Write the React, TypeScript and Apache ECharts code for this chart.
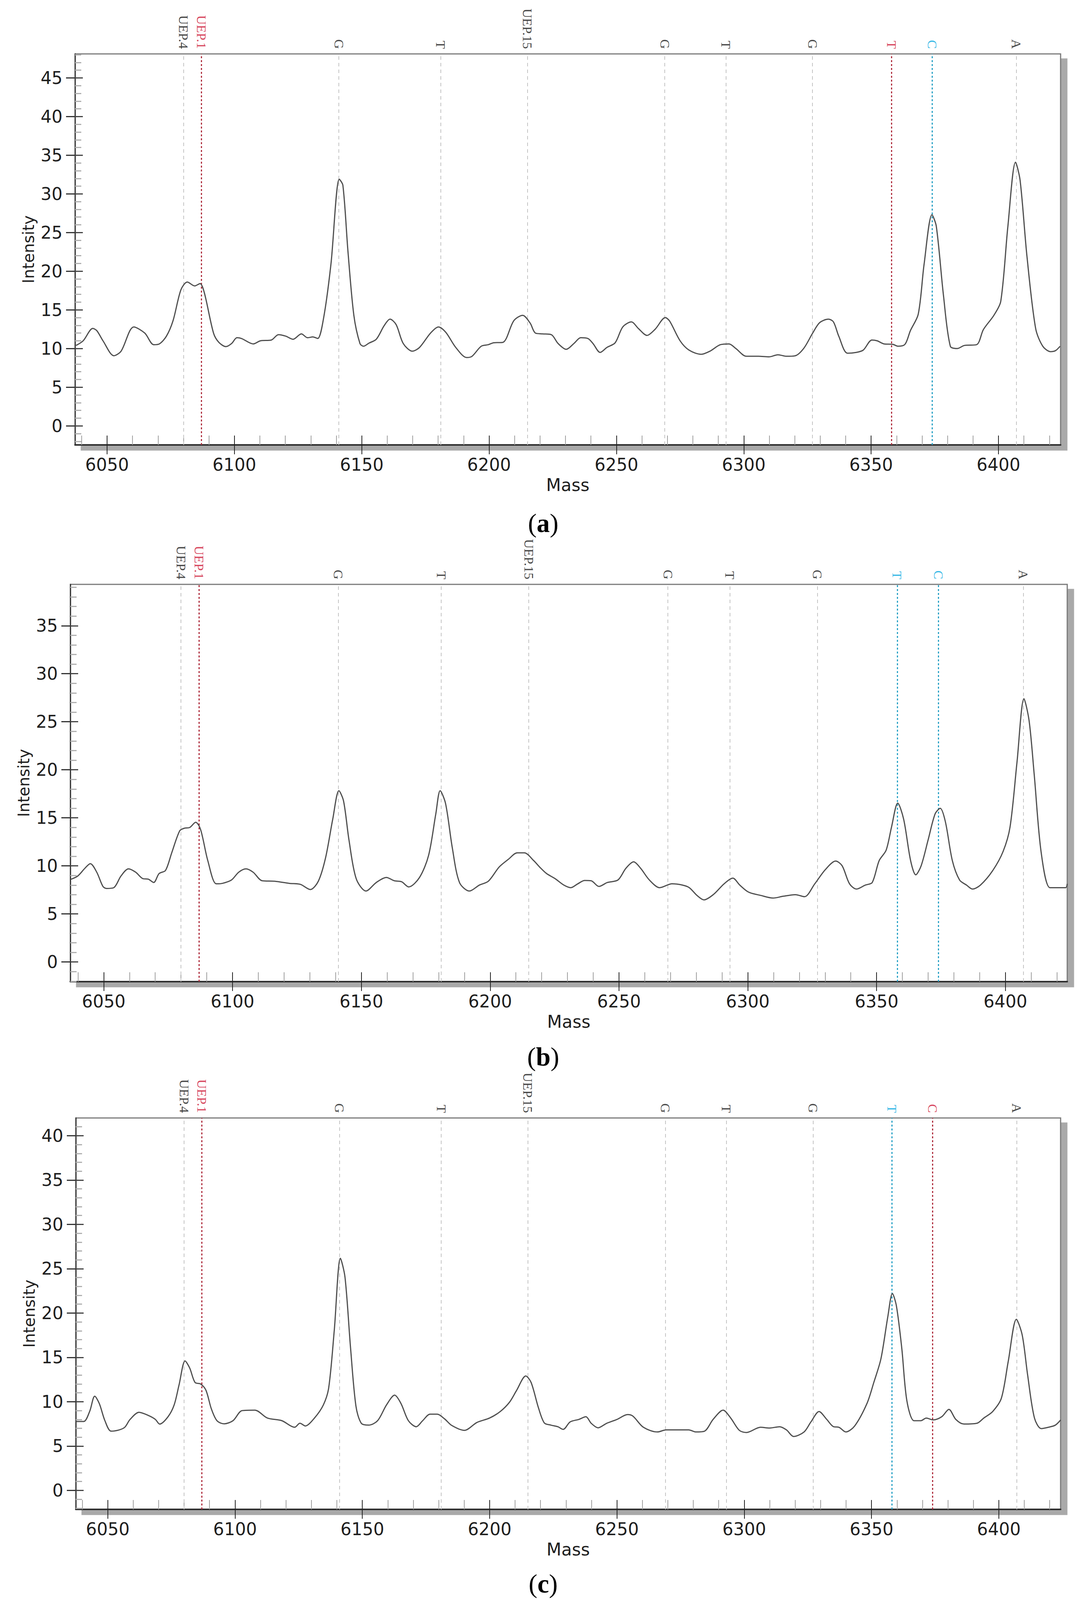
import React, { useEffect, useRef, useState } from "react";
import * as echarts from "echarts";

// ---------------- data ----------------
const massA = [6037.8, 6040.6, 6044.4, 6046.0, 6048.4, 6052.7, 6055.5, 6060.5, 6064.8, 6068.3, 6070.5, 6073.3, 6075.9, 6079.0, 6081.5, 6084.4, 6086.5, 6088.2, 6091.8, 6093.9, 6096.7, 6098.9, 6101.0, 6102.8, 6107.4, 6110.2, 6114.5, 6117.3, 6120.2, 6123.0, 6126.3, 6128.7, 6130.8, 6132.7, 6135.1, 6137.9, 6141.2, 6142.6, 6144.6, 6146.9, 6149.3, 6150.7, 6152.8, 6155.7, 6158.8, 6161.1, 6163.5, 6166.3, 6169.9, 6172.7, 6177.0, 6180.1, 6183.0, 6186.9, 6191.2, 6193.3, 6196.9, 6199.7, 6201.8, 6205.4, 6209.7, 6213.2, 6216.1, 6218.2, 6221.0, 6224.4, 6227.1, 6230.3, 6233.3, 6236.0, 6238.8, 6240.8, 6243.6, 6246.3, 6249.5, 6252.5, 6255.9, 6258.6, 6262.0, 6265.2, 6269.2, 6270.9, 6275.0, 6278.5, 6283.3, 6286.7, 6290.8, 6294.2, 6296.9, 6301.0, 6305.8, 6309.9, 6313.4, 6316.8, 6320.2, 6323.6, 6327.0, 6329.8, 6333.2, 6335.2, 6337.3, 6340.7, 6344.1, 6346.9, 6350.3, 6352.4, 6355.1, 6358.5, 6360.6, 6363.3, 6365.4, 6368.5, 6370.8, 6373.9, 6375.6, 6378.4, 6381.1, 6383.8, 6386.6, 6391.4, 6394.1, 6398.2, 6400.9, 6403.7, 6406.7, 6408.5, 6411.2, 6414.6, 6417.4, 6420.5, 6422.4, 6424.2];
const intensityA = [10.4, 11.0, 12.6, 12.3, 11.0, 9.07, 9.66, 12.8, 12.0, 10.5, 10.6, 11.6, 13.6, 17.6, 18.6, 18.1, 18.4, 17.2, 12.0, 10.8, 10.25, 10.65, 11.4, 11.3, 10.6, 11.0, 11.1, 11.8, 11.6, 11.2, 11.9, 11.4, 11.5, 11.3, 14.1, 20.9, 31.9, 31.1, 22.5, 14.3, 10.65, 10.3, 10.7, 11.2, 12.96, 13.8, 13.1, 10.65, 9.66, 10.15, 12.0, 12.8, 12.1, 10.15, 8.84, 9.0, 10.3, 10.5, 10.75, 10.8, 13.6, 14.3, 13.3, 12.0, 11.9, 11.8, 10.65, 9.9, 10.65, 11.4, 11.3, 10.65, 9.5, 10.15, 10.75, 12.8, 13.45, 12.6, 11.7, 12.5, 14.0, 13.55, 11.0, 9.8, 9.26, 9.66, 10.5, 10.6, 10.0, 9.0, 9.0, 8.93, 9.2, 9.0, 9.07, 10.05, 11.97, 13.35, 13.8, 13.45, 11.6, 9.4, 9.5, 9.8, 11.1, 11.0, 10.6, 10.55, 10.3, 10.55, 12.3, 14.44, 20.9, 27.3, 25.8, 16.9, 10.3, 10.0, 10.4, 10.5, 12.46, 14.3, 16.1, 25.8, 34.1, 31.75, 21.9, 12.6, 10.3, 9.6, 9.73, 10.3];

const massB = [6037.1, 6039.9, 6042.7, 6044.8, 6047.3, 6049.7, 6051.1, 6053.9, 6056.7, 6059.6, 6062.4, 6065.2, 6067.3, 6069.4, 6071.5, 6074.0, 6076.4, 6079.5, 6081.3, 6083.4, 6085.7, 6087.6, 6090.4, 6093.7, 6096.1, 6099.6, 6102.4, 6105.2, 6108.0, 6111.5, 6116.4, 6122.1, 6126.3, 6130.2, 6133.3, 6136.1, 6138.9, 6141.3, 6143.1, 6145.2, 6148.0, 6151.8, 6155.8, 6159.7, 6162.8, 6165.6, 6168.4, 6172.6, 6176.1, 6178.9, 6180.6, 6182.7, 6185.3, 6188.1, 6192.0, 6195.8, 6199.3, 6203.5, 6207.1, 6210.5, 6213.3, 6216.9, 6219.2, 6221.9, 6225.2, 6228.6, 6231.3, 6234.0, 6236.7, 6239.2, 6242.2, 6245.5, 6249.6, 6252.7, 6255.7, 6258.4, 6261.8, 6265.8, 6270.6, 6274.6, 6277.3, 6280.3, 6283.0, 6286.8, 6290.8, 6294.2, 6296.9, 6300.3, 6305.1, 6309.8, 6313.8, 6318.6, 6322.0, 6326.0, 6330.1, 6334.1, 6336.6, 6339.5, 6342.2, 6345.6, 6348.3, 6351.0, 6353.7, 6355.8, 6358.2, 6360.5, 6363.2, 6365.2, 6367.3, 6370.0, 6372.7, 6374.7, 6376.7, 6379.4, 6382.2, 6384.9, 6387.2, 6390.3, 6395.0, 6399.1, 6401.8, 6404.5, 6407.2, 6409.2, 6411.2, 6413.9, 6417.3, 6420.7, 6423.4, 6424.0];
const intensityB = [8.59, 8.94, 9.75, 10.23, 9.34, 7.86, 7.65, 7.73, 8.94, 9.69, 9.34, 8.67, 8.62, 8.27, 9.2, 9.53, 11.36, 13.65, 13.92, 14.0, 14.54, 13.79, 10.55, 8.13, 8.18, 8.53, 9.34, 9.69, 9.34, 8.45, 8.4, 8.18, 8.08, 7.54, 8.4, 10.82, 14.86, 17.82, 16.75, 12.7, 8.67, 7.38, 8.27, 8.8, 8.45, 8.35, 7.81, 8.8, 11.09, 15.4, 17.82, 16.48, 11.9, 8.27, 7.38, 8.0, 8.4, 9.88, 10.69, 11.36, 11.36, 10.55, 9.88, 9.2, 8.67, 8.0, 7.73, 8.13, 8.48, 8.45, 7.86, 8.27, 8.53, 9.75, 10.42, 9.75, 8.53, 7.73, 8.13, 8.0, 7.73, 6.92, 6.46, 7.05, 8.13, 8.72, 8.0, 7.27, 6.92, 6.65, 6.84, 7.0, 6.79, 8.13, 9.61, 10.5, 10.02, 8.13, 7.59, 8.0, 8.27, 10.55, 11.63, 14.05, 16.53, 14.86, 10.55, 9.07, 10.02, 12.7, 15.4, 15.99, 14.59, 10.55, 8.53, 8.0, 7.59, 8.0, 9.48, 11.5, 14.05, 20.8, 27.4, 25.1, 19.44, 11.36, 7.73, 7.73, 7.73, 8.13];

const massC = [6037.5, 6040.6, 6042.9, 6044.9, 6046.7, 6048.9, 6051.3, 6054.5, 6056.7, 6058.8, 6062.3, 6065.9, 6068.7, 6070.4, 6073.7, 6076.1, 6078.0, 6080.4, 6082.2, 6084.3, 6086.5, 6088.6, 6090.7, 6092.9, 6095.7, 6099.2, 6102.8, 6107.8, 6112.7, 6118.4, 6123.4, 6125.5, 6127.6, 6131.2, 6134.7, 6136.8, 6139.0, 6141.4, 6143.2, 6145.4, 6147.5, 6149.6, 6152.5, 6156.0, 6159.5, 6162.7, 6165.2, 6168.1, 6171.2, 6173.7, 6176.6, 6179.4, 6182.3, 6185.1, 6190.1, 6195.0, 6200.0, 6204.2, 6207.8, 6210.6, 6214.2, 6216.3, 6219.2, 6221.5, 6224.1, 6226.8, 6228.9, 6231.6, 6235.1, 6237.8, 6239.9, 6242.6, 6246.0, 6250.1, 6254.2, 6256.3, 6260.4, 6265.9, 6269.3, 6278.2, 6281.0, 6284.4, 6287.8, 6291.7, 6294.7, 6298.1, 6300.9, 6306.4, 6309.8, 6313.9, 6316.6, 6319.4, 6323.5, 6326.2, 6329.4, 6332.4, 6335.1, 6337.2, 6339.9, 6343.4, 6348.2, 6350.9, 6353.7, 6356.4, 6358.2, 6359.8, 6361.9, 6363.9, 6366.7, 6369.4, 6371.5, 6374.2, 6377.6, 6380.4, 6383.1, 6386.3, 6391.4, 6394.1, 6397.6, 6401.0, 6403.7, 6406.9, 6409.2, 6411.3, 6414.0, 6416.7, 6419.5, 6422.2, 6424.3];
const intensityC = [7.77, 7.77, 8.9, 10.62, 9.79, 7.86, 6.68, 6.82, 7.12, 8.01, 8.81, 8.46, 8.01, 7.48, 8.31, 9.64, 11.87, 14.6, 13.8, 12.17, 12.0, 11.28, 9.2, 7.86, 7.51, 7.86, 9.0, 9.05, 8.16, 7.86, 7.12, 7.57, 7.27, 8.16, 9.64, 11.57, 18.1, 26.17, 24.04, 16.0, 9.5, 7.57, 7.36, 7.86, 9.64, 10.74, 9.79, 7.86, 7.18, 7.86, 8.6, 8.6, 8.07, 7.33, 6.77, 7.66, 8.16, 8.9, 9.94, 11.28, 12.9, 12.17, 9.3, 7.6, 7.36, 7.18, 6.88, 7.72, 8.01, 8.31, 7.57, 7.06, 7.57, 8.01, 8.55, 8.37, 7.12, 6.59, 6.82, 6.82, 6.59, 6.68, 8.01, 9.05, 8.16, 6.77, 6.53, 7.12, 7.03, 7.18, 6.82, 6.08, 6.59, 7.72, 8.9, 8.01, 7.18, 7.12, 6.59, 7.27, 9.79, 12.17, 14.84, 19.58, 22.2, 20.77, 16.0, 10.09, 7.86, 7.86, 8.16, 7.95, 8.31, 9.14, 8.01, 7.48, 7.57, 8.16, 8.9, 10.39, 14.54, 19.29, 17.51, 13.06, 8.16, 6.97, 7.12, 7.36, 7.95];

const markerMasses = [6080, 6087, 6141, 6181, 6215, 6269, 6293, 6327, 6358, 6374, 6407];
const markerNames = ["UEP.4", "UEP.1", "G", "T", "UEP.15", "G", "T", "G", "T", "C", "A"];
const markerTonesA = ["k", "r", "k", "k", "k", "k", "k", "k", "r", "c", "k"];
const markerTonesB = ["k", "r", "k", "k", "k", "k", "k", "k", "c", "c", "k"];
const markerTonesC = ["k", "r", "k", "k", "k", "k", "k", "k", "c", "r", "k"];

const xTickValues = [6050, 6100, 6150, 6200, 6250, 6300, 6350, 6400];
const yTicksA = [0, 5, 10, 15, 20, 25, 30, 35, 40, 45];
const yTicksB = [0, 5, 10, 15, 20, 25, 30, 35];
const yTicksC = [0, 5, 10, 15, 20, 25, 30, 35, 40];
const panelLetters = ["a", "b", "c"];

// ---------------- layout (reference pixels, 2779 x 5040 page) ----------------
const PAGE_W = 2779;
const PAGE_H = 5040;
const panels = [
  { mass: massA, inten: intensityA, tones: markerTonesA, yTicks: yTicksA, left: 192, top: 170, width: 2522, height: 1232, xMin: 6037.42, xMax: 6424.4, yMin: -2.46, yMax: 48.1, letterY: 1647 },
  { mass: massB, inten: intensityB, tones: markerTonesB, yTicks: yTicksB, left: 180, top: 1841, width: 2551, height: 1252, xMin: 6037.05, xMax: 6424.0, yMin: -2.05, yMax: 39.3, letterY: 3328 },
  { mass: massC, inten: intensityC, tones: markerTonesC, yTicks: yTicksC, left: 194, top: 3521, width: 2520, height: 1233, xMin: 6037.47, xMax: 6424.27, yMin: -2.14, yMax: 42.0, letterY: 4988 },
];

const SANS = "DejaVu Sans";
const SERIF = "Liberation Serif";
const textColor = (t: string) => (t === "r" ? "#cc1030" : t === "c" ? "#00a6e0" : "#111111");
const lineColor = (t: string) => (t === "r" ? "#b03040" : t === "c" ? "#2aa2c6" : "#c4c4c4");
const plain = (v: number) => String(Math.round(v));

// k: vertical fit factor (1 when the window is as tall as the reference page)
function buildOption(k: number) {
  const grid: any[] = [];
  const xAxis: any[] = [];
  const yAxis: any[] = [];
  const series: any[] = [];
  const graphic: any[] = [];
  const vFont = Math.round(42 * k);

  panels.forEach((p, i) => {
    grid.push({
      left: p.left, top: Math.round(p.top * k), width: p.width, height: Math.round(p.height * k),
      show: true, backgroundColor: "#ffffff", borderColor: "#7a7a7a", borderWidth: 3,
      shadowColor: "#a9a9a9", shadowBlur: 0, shadowOffsetX: 16, shadowOffsetY: Math.round(16 * k),
    });
    const xCommon = { type: "value", gridIndex: i, min: p.xMin, max: p.xMax, splitNumber: 8, minInterval: 50, maxInterval: 50, position: "bottom", splitLine: { show: false } };
    xAxis.push({
      ...xCommon,
      name: "Mass", nameLocation: "middle", nameGap: Math.round(128 * k - 24),
      nameTextStyle: { fontFamily: SANS, fontSize: 44, color: "#1e1e1e" },
      axisLine: { show: true, onZero: false, lineStyle: { color: "#2e2e2e", width: 4 } },
      axisTick: { show: true, inside: false, length: Math.round(30 * k), customValues: xTickValues, lineStyle: { color: "#222", width: 2 } },
      axisLabel: { show: true, margin: Math.round(65 * k - 25), customValues: xTickValues, formatter: plain, fontFamily: SANS, fontSize: 44, color: "#1e1e1e" },
      minorTick: { show: false },
    });
    xAxis.push({
      ...xCommon,
      axisLine: { show: false, onZero: false },
      axisLabel: { show: false },
      axisTick: { show: true, inside: true, length: Math.round(30 * k), customValues: xTickValues, lineStyle: { color: "#222", width: 2 } },
      minorTick: { show: true, splitNumber: 5, length: Math.round(29 * k), lineStyle: { color: "#a0a0a0", width: 2 } },
    });
    const yCommon = { type: "value", gridIndex: i, min: p.yMin, max: p.yMax, splitNumber: 10, minInterval: 5, maxInterval: 5, position: "left", splitLine: { show: false } };
    yAxis.push({
      ...yCommon,
      name: "Intensity", nameLocation: "middle", nameGap: 98,
      nameTextStyle: { fontFamily: SANS, fontSize: Math.round(44 * Math.max(k, 0.9)), color: "#1e1e1e" },
      axisLine: { show: true, onZero: false, lineStyle: { color: "#3a3a3a", width: 3 } },
      axisTick: { show: true, inside: false, length: 23, customValues: p.yTicks, lineStyle: { color: "#333", width: 3 } },
      axisLabel: { show: true, margin: 32, customValues: p.yTicks, formatter: plain, fontFamily: SANS, fontSize: 44, color: "#1e1e1e" },
      minorTick: { show: false },
    });
    yAxis.push({
      ...yCommon,
      axisLine: { show: false, onZero: false },
      axisLabel: { show: false },
      axisTick: { show: true, inside: true, length: 20, customValues: p.yTicks, lineStyle: { color: "#444", width: 3 } },
      minorTick: { show: true, splitNumber: 5, length: 16, lineStyle: { color: "#b0b0b0", width: 3 } },
    });

    series.push({
      type: "line",
      xAxisIndex: 2 * i, yAxisIndex: 2 * i,
      data: p.mass.map((m, j) => [m, p.inten[j]]),
      showSymbol: false, symbol: "none",
      smooth: 0.3,
      lineStyle: { color: "#4e4e4e", width: 3 },
      z: 5,
      markLine: {
        silent: true, symbol: ["none", "none"], label: { show: false },
        data: markerMasses.map((m, j) => ({
          xAxis: m,
          lineStyle: { color: lineColor(p.tones[j]), width: p.tones[j] === "k" ? 2 : 3, type: p.tones[j] === "k" ? [9, 8] : [5, 5] },
        })),
      },
    });
    series.push({
      type: "scatter",
      xAxisIndex: 2 * i, yAxisIndex: 2 * i,
      symbolSize: 0, silent: true, clip: false,
      data: markerMasses.map((m, j) => ({
        name: markerNames[j],
        value: [m, p.yMax],
        label: { color: textColor(p.tones[j]) },
      })),
      label: {
        show: true, position: "top", distance: Math.round(16 * k), rotate: -90,
        align: "right", verticalAlign: "middle",
        formatter: "{b}", fontFamily: SERIF, fontSize: vFont,
      },
      z: 6,
    });

    const lf = Math.round(76 * Math.max(k, 0.88));
    graphic.push({
      type: "text",
      x: 1390, y: Math.round(p.letterY * k),
      style: {
        text: "{p|(}{b|" + panelLetters[i] + "}{p|)}",
        align: "center", verticalAlign: "middle",
        rich: {
          p: { fontFamily: SERIF, fontSize: lf, fill: "#000", color: "#000" },
          b: { fontFamily: SERIF, fontSize: lf, fontWeight: "bold", fill: "#000", color: "#000" },
        },
      },
    });
  });

  return { animation: false, backgroundColor: "#ffffff", grid, xAxis, yAxis, series, graphic };
}

export default function App() {
  const ref = useRef<HTMLDivElement>(null);
  const [k] = useState(() => {
    const h = typeof window !== "undefined" ? window.innerHeight : PAGE_H;
    return h > 0 ? Math.min(1, h / PAGE_H) : 1;
  });
  useEffect(() => {
    if (!ref.current) return;
    const chart = echarts.init(ref.current, null, { renderer: "svg" });
    chart.setOption(buildOption(k) as any);
    return () => chart.dispose();
  }, [k]);
  return (
    <div
      ref={ref}
      style={{ position: "absolute", left: 0, top: 0, width: PAGE_W, height: Math.floor(PAGE_H * k), background: "#fff" }}
    />
  );
}
